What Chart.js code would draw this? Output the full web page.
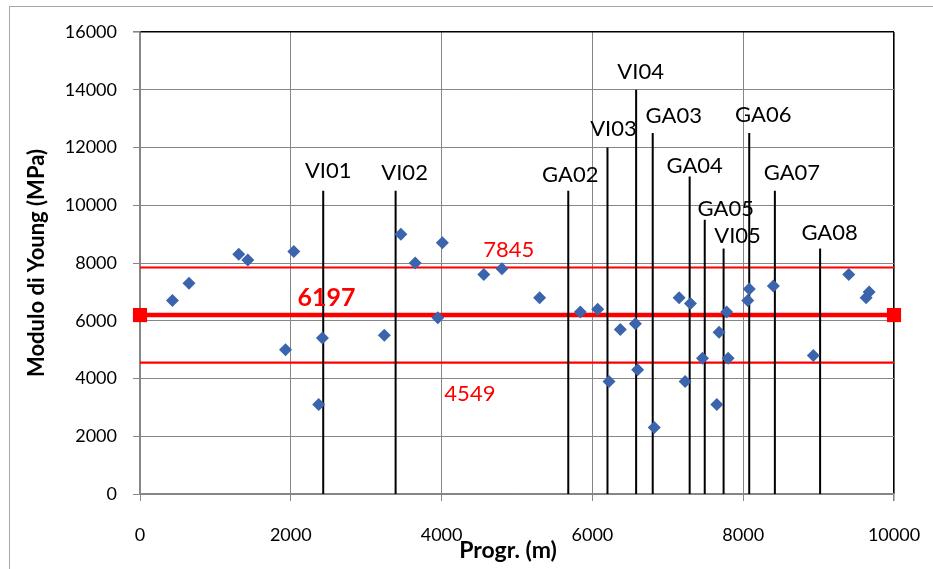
<!DOCTYPE html>
<html>
<head>
<meta charset="utf-8">
<script src="https://cdn.jsdelivr.net/npm/chart.js@4.4.1/dist/chart.umd.min.js"></script>
<style>
  html, body { margin: 0; padding: 0; background: #fff; }
  #wrap { position: relative; width: 933px; height: 569px; overflow: hidden; }
  #frame { position: absolute; left: 9px; top: 6px; width: 930px; height: 570px;
           border-left: 1px solid #a6a6a6; border-top: 1px solid #a6a6a6; box-sizing: border-box; pointer-events: none; }
  canvas { position: absolute; left: 0; top: 0; }
</style>
</head>
<body>
<div id="wrap">
  <canvas id="c" width="933" height="569"></canvas>
  <div id="frame"></div>
</div>
<script>
// ---- DATA ----
const pointX = [430, 650, 1310, 1430, 2040, 1930, 2420, 2370, 3460, 3240, 3650, 4010, 3950,
                4560, 4800, 5300, 5840, 6070, 6370, 6570, 6220, 6600, 6820, 7150, 7300, 7460,
                7230, 7650, 7680, 7780, 7800, 8080, 8060, 8400, 8930, 9400, 9670, 9630];
const pointY = [6700, 7300, 8300, 8100, 8400, 5000, 5400, 3100, 9000, 5500, 8000, 8700, 6100,
                7600, 7800, 6800, 6300, 6400, 5700, 5900, 3900, 4300, 2300, 6800, 6600, 4700,
                3900, 3100, 5600, 6300, 4700, 7100, 6700, 7200, 4800, 7600, 7000, 6800];

const markerNames = ["VI01", "VI02", "GA02", "VI03", "VI04", "GA03", "GA04", "GA05", "VI05", "GA06", "GA07", "GA08"];
const markerX     = [2430, 3390, 5680, 6200, 6580, 6800, 7290, 7490, 7740, 8080, 8420, 9020];
const markerTop   = [10500, 10500, 10500, 12000, 14000, 12500, 11000, 9500, 8500, 12500, 10500, 8500];

const meanValue  = 6197;
const upperValue = 7845;
const lowerValue = 4549;

const xRange = [0, 10000];
const yRange = [0, 16000];
const tickStep = 2000;
const xTitle = 'Progr. (m)';
const yTitle = 'Modulo di Young (MPa)';

// ---- STYLE (label placement, not data) ----
const markerLabelOffsets = [[5, 13], [9, 11], [2, 9], [6, 12], [4.5, 11], [21, 10],
                            [5, 3.5], [21, 3.5], [14, 6], [14, 11], [17, 11], [9.5, 9]];
const statLabelStyle = [
  { value: upperValue, x: 4890, dy: -10, font: '22px Lato' },
  { value: meanValue,  x: 2474, dy: -9,  font: 'bold 25px Lato' },
  { value: lowerValue, x: 4375, dy: 38,  font: '22px Lato' }
];

const GRID = '#868686';
const RED = '#ff0000';

const datasets = [];
datasets.push({
  type: 'scatter',
  label: 'E',
  data: pointX.map((x, i) => ({ x: x, y: pointY[i] })),
  pointStyle: 'rectRot',
  pointRadius: 6.5,
  pointHoverRadius: 6.5,
  backgroundColor: '#3b64ad',
  borderColor: '#3b64ad',
  borderWidth: 0,
  showLine: false
});
markerNames.forEach((n, i) => {
  datasets.push({
    type: 'line',
    label: n,
    data: [{ x: markerX[i], y: 0 }, { x: markerX[i], y: markerTop[i] }],
    borderColor: '#000',
    borderWidth: 2,
    pointRadius: 0,
    fill: false
  });
});
datasets.push({
  type: 'line', label: 'upper',
  data: [{ x: xRange[0], y: upperValue }, { x: xRange[1], y: upperValue }],
  borderColor: RED, borderWidth: 2.2, pointRadius: 0, fill: false
});
datasets.push({
  type: 'line', label: 'lower',
  data: [{ x: xRange[0], y: lowerValue }, { x: xRange[1], y: lowerValue }],
  borderColor: RED, borderWidth: 2.2, pointRadius: 0, fill: false
});
datasets.push({
  type: 'line', label: 'mean',
  data: [{ x: xRange[0], y: meanValue }, { x: xRange[1], y: meanValue }],
  borderColor: RED, borderWidth: 4.5, pointStyle: 'rect', pointRadius: 10,
  pointBackgroundColor: RED, pointBorderColor: RED, pointBorderWidth: 0,
  fill: false, clip: false
});

const labelPlugin = {
  id: 'labelPlugin',
  afterDatasetsDraw(chart) {
    const ctx = chart.ctx;
    const xs = chart.scales.x, ys = chart.scales.y;
    ctx.save();
    ctx.textAlign = 'center';
    ctx.textBaseline = 'alphabetic';
    ctx.fillStyle = '#000';
    ctx.font = '22px Lato';
    markerNames.forEach((n, i) => {
      const px = xs.getPixelForValue(markerX[i]) + markerLabelOffsets[i][0];
      const py = ys.getPixelForValue(markerTop[i]) - markerLabelOffsets[i][1];
      ctx.fillText(n, px, py);
    });
    ctx.fillStyle = RED;
    statLabelStyle.forEach(s => {
      ctx.font = s.font;
      ctx.fillText(String(s.value), xs.getPixelForValue(s.x), ys.getPixelForValue(s.value) + s.dy);
    });
    // x-axis title (slightly left of the plot centre, as in the original)
    ctx.fillStyle = '#000';
    ctx.font = 'bold 23px Lato';
    ctx.textBaseline = 'middle';
    ctx.fillText(xTitle, (xs.left + xs.right) / 2 - 9, xs.bottom - 18);
    ctx.restore();
  }
};

new Chart(document.getElementById('c'), {
  type: 'scatter',
  data: { datasets: datasets },
  plugins: [labelPlugin],
  options: {
    responsive: false,
    animation: false,
    events: [],
    layout: { padding: { left: 0, top: 32, right: 39, bottom: 0 } },
    plugins: { legend: { display: false }, tooltip: { enabled: false } },
    scales: {
      x: {
        type: 'linear', min: xRange[0], max: xRange[1],
        afterFit: s => { s.height = 75; s.paddingLeft = 0; s.paddingRight = 0; },
        ticks: { stepSize: tickStep, color: '#000', font: { family: 'Lato', size: 18 }, padding: 23, maxRotation: 0,
                 callback: v => String(v) },
        grid: {
          color: c => (c.tick && c.tick.value === xRange[1]) ? '#000' : GRID,
          lineWidth: c => (c.tick && c.tick.value === xRange[1]) ? 1.6 : 1,
          tickColor: GRID, tickLength: 7, drawTicks: true
        },
        border: { color: GRID, width: 1.3 },
        title: { display: false }
      },
      y: {
        type: 'linear', min: yRange[0], max: yRange[1],
        afterFit: s => { s.width = 140; s.paddingTop = 0; s.paddingBottom = 0; },
        ticks: { stepSize: tickStep, color: '#000', font: { family: 'Lato', size: 18 }, padding: 16,
                 callback: v => String(v) },
        grid: {
          color: c => (c.tick && c.tick.value === yRange[1]) ? '#000' : GRID,
          lineWidth: c => (c.tick && c.tick.value === yRange[1]) ? 1.6 : 1,
          tickColor: GRID, tickLength: 7, drawTicks: true
        },
        border: { color: GRID, width: 1.3 },
        title: { display: true, text: yTitle, color: '#000',
                 font: { family: 'Lato', size: 22, weight: 'bold' }, padding: { top: 24, bottom: 0 } }
      }
    }
  }
});
</script>
</body>
</html>
